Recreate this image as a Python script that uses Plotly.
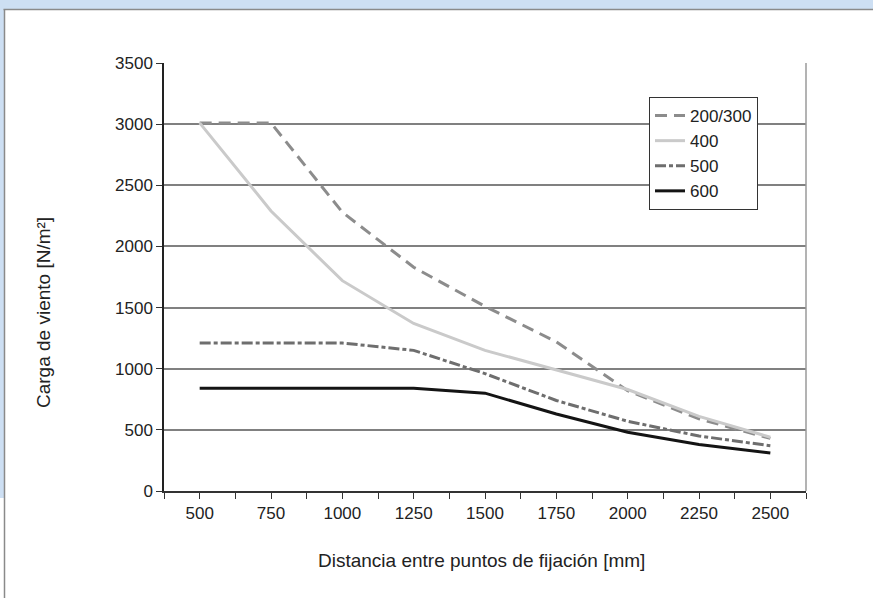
import plotly.graph_objects as go

# ---- data ----
distances = [500, 750, 1000, 1250, 1500, 1750, 2000, 2250, 2500]
s_200_300 = [3010, 3010, 2280, 1830, 1510, 1220, 820, 590, 430]
s_400 = [3010, 2290, 1720, 1370, 1150, 990, 830, 610, 440]
s_500 = [1210, 1210, 1210, 1150, 960, 740, 570, 450, 370]
s_600 = [840, 840, 840, 840, 800, 630, 480, 380, 310]
series_names = ["200/300", "400", "500", "600"]
y_ticks = [0, 500, 1000, 1500, 2000, 2500, 3000, 3500]
x_title = "Distancia entre puntos de fijación [mm]"
y_title = "Carga de viento [N/m²]"

W, H = 873, 598
L, R, T, B = 164, 67, 63, 107
pw, ph = W - L - R, H - T - B

def px(x):
    return (x - L) / pw

def py(y):
    return (H - B - y) / ph

fig = go.Figure()
styles = [
    dict(color="#8c8c8c", width=3, dash="12px,7px"),
    dict(color="#cacaca", width=3, dash="solid"),
    dict(color="#6e6e6e", width=3, dash="11px,3px,4px,3px"),
    dict(color="#141414", width=3, dash="solid"),
]
for name, vals, st in zip(series_names, [s_200_300, s_400, s_500, s_600], styles):
    fig.add_trace(go.Scatter(x=distances, y=vals, mode="lines", name=name, line=st))

tick_font = dict(family="Liberation Sans, Arial, sans-serif", size=17, color="#222")
title_font = dict(family="Liberation Sans, Arial, sans-serif", size=19, color="#222")

fig.update_layout(
    width=W, height=H,
    margin=dict(l=L, r=R, t=T, b=B),
    paper_bgcolor="white", plot_bgcolor="white",
    showlegend=True,
    legend=dict(x=px(649), y=py(97), xanchor="left", yanchor="top",
                bgcolor="white", bordercolor="#333", borderwidth=1,
                font=tick_font, tracegroupgap=0),
    xaxis=dict(range=[375, 2625], tickmode="array", tickvals=distances,
               ticks="outside", ticklen=6, tickcolor="#333", tickwidth=1,
               minor=dict(tick0=375, dtick=250, ticks="outside", ticklen=6, tickcolor="#333", tickwidth=1),
               showgrid=False, zeroline=False, showline=True, linecolor="#333", linewidth=1.5,
               tickfont=tick_font),
    yaxis=dict(range=[0, 3500], tickmode="array", tickvals=y_ticks,
               ticks="outside", ticklen=6, tickcolor="#333", tickwidth=1,
               showgrid=True, gridcolor="#808080", gridwidth=1.5,
               zeroline=False, showline=True, linecolor="#222", linewidth=1.5,
               tickfont=tick_font),
    annotations=[
        dict(text=x_title, xref="paper", yref="paper", x=px(481), y=py(560),
             showarrow=False, font=title_font, xanchor="center", yanchor="middle"),
        dict(text=y_title, xref="paper", yref="paper", x=px(43), y=py(313),
             showarrow=False, font=title_font, textangle=-90, xanchor="center", yanchor="middle"),
    ],
    shapes=[
        # blue frame bands
        dict(type="rect", xref="paper", yref="paper", x0=px(0), x1=px(W), y0=py(0), y1=py(9),
             fillcolor="#cddff3", line=dict(width=0), layer="below"),
        dict(type="rect", xref="paper", yref="paper", x0=px(0), x1=px(4), y0=py(0), y1=py(498),
             fillcolor="#cddff3", line=dict(width=0), layer="below"),
        # grey panel border
        dict(type="line", xref="paper", yref="paper", x0=px(3.5), x1=px(W), y0=py(9.5), y1=py(9.5),
             line=dict(color="#8a8a8a", width=1.5)),
        dict(type="line", xref="paper", yref="paper", x0=px(4.5), x1=px(4.5), y0=py(9.5), y1=py(H),
             line=dict(color="#8a8a8a", width=1.5)),
        # right plot border
        dict(type="line", xref="x domain", yref="y domain", x0=1, x1=1, y0=0, y1=1,
             line=dict(color="#9a9a9a", width=1.5)),
    ],
)

fig.write_html("out.html", config={"displayModeBar": False},
               post_script="document.body.style.margin='0';document.body.style.overflow='hidden';")
